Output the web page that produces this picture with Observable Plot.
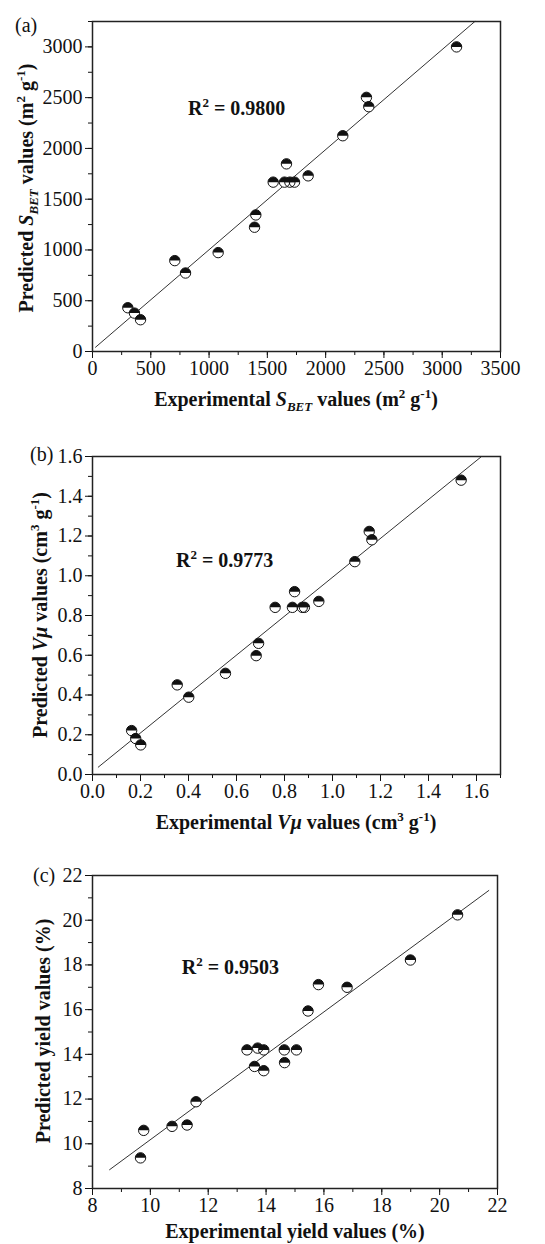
<!DOCTYPE html>
<html>
<head>
<meta charset="utf-8">
<script src="https://cdn.jsdelivr.net/npm/d3@7"></script>
<script src="https://cdn.jsdelivr.net/npm/@observablehq/plot@0.6"></script>
<style>
  body { margin: 0; background: #fff; }
  #chart svg { display: block; }
  text { white-space: pre; }
</style>
</head>
<body>
<div id="chart"></div>
<script>
// ---------- Panel (a): S_BET ----------
const expA  = [303, 360, 412, 706, 798, 1078, 1390, 1401, 1550, 1647, 1664, 1693, 1733, 1850, 2147, 2350, 2370, 3123];
const predA = [431, 378, 313, 895, 773, 974, 1224, 1345, 1668, 1668, 1848, 1668, 1668, 1730, 2125, 2503, 2411, 3000];
const fitAx = [26, 3280];
const fitAy = [42, 3250];
const xTicksA = [0, 500, 1000, 1500, 2000, 2500, 3000, 3500];
const yTicksA = [0, 500, 1000, 1500, 2000, 2500, 3000];
const r2A = "0.9800";

// ---------- Panel (b): V_mu ----------
const expB  = [0.163, 0.180, 0.201, 0.353, 0.401, 0.554, 0.682, 0.692, 0.761, 0.833, 0.842, 0.874, 0.883, 0.943, 1.093, 1.153, 1.164, 1.536];
const predB = [0.221, 0.181, 0.149, 0.451, 0.389, 0.509, 0.598, 0.660, 0.841, 0.841, 0.920, 0.841, 0.841, 0.871, 1.071, 1.223, 1.181, 1.481];
const fitBx = [0.024, 1.621];
const fitBy = [0.037, 1.6];
const xTicksB = [0, 0.2, 0.4, 0.6, 0.8, 1.0, 1.2, 1.4, 1.6];
const yTicksB = [0, 0.2, 0.4, 0.6, 0.8, 1.0, 1.2, 1.4, 1.6];
const r2B = "0.9773";

// ---------- Panel (c): yield ----------
const expC  = [9.66, 9.77, 10.75, 11.27, 11.58, 13.34, 13.60, 13.71, 13.92, 13.92, 14.63, 14.64, 15.05, 15.45, 15.81, 16.80, 18.99, 20.62];
const predC = [9.37, 10.60, 10.78, 10.84, 11.88, 14.20, 13.46, 14.28, 14.20, 13.27, 14.20, 13.63, 14.20, 15.94, 17.12, 17.00, 18.22, 20.24];
const fitCx = [8.59, 21.70];
const fitCy = [8.84, 21.33];
const xTicksC = [8, 10, 12, 14, 16, 18, 20, 22];
const yTicksC = [8, 10, 12, 14, 16, 18, 20, 22];
const r2C = "0.9503";

const FONT = "'Liberation Serif', 'Times New Roman', serif";
const INK = "#111";

// top-half filled circle symbol
const halfTop = {
  draw(ctx, size) {
    const r = Math.sqrt(size / Math.PI);
    ctx.moveTo(r, 0);
    ctx.arc(0, 0, r, 0, Math.PI, true);
    ctx.closePath();
  }
};

function panel(cfg) {
  const pts = cfg.ex.map((x, i) => ({x, y: cfg.pr[i]}));
  const fit = cfg.fx.map((x, i) => ({x, y: cfg.fy[i]}));
  const svg = Plot.plot({
    width: 545,
    height: cfg.height,
    marginLeft: 92,
    marginRight: cfg.mr,
    marginTop: cfg.mt,
    marginBottom: cfg.mb,
    style: {fontFamily: FONT, fontSize: "20px", color: INK, background: "#fff", overflow: "visible"},
    x: {domain: cfg.xDomain, label: null},
    y: {domain: cfg.yDomain, label: null},
    marks: [
      Plot.axisX(cfg.xMinor, {tickSize: 4, fill: "none", label: null, stroke: INK}),
      Plot.axisX(cfg.xTicks, {tickSize: 7, tickPadding: 2, tickFormat: cfg.fmt, label: null, fontSize: 20, stroke: INK, fill: INK}),
      Plot.axisY(cfg.yMinor, {tickSize: 4, fill: "none", label: null, stroke: INK}),
      Plot.axisY(cfg.yTicks, {tickSize: 7, tickPadding: 3, tickFormat: cfg.fmt, label: null, fontSize: 20, stroke: INK, fill: INK}),
      Plot.line(fit, {x: "x", y: "y", stroke: "#333", strokeWidth: 1}),
      Plot.dot(pts, {x: "x", y: "y", r: 5.2, fill: "white", stroke: "none"}),
      Plot.dot(pts, {x: "x", y: "y", r: 5.2, symbol: halfTop, fill: INK, stroke: "none"}),
      Plot.dot(pts, {x: "x", y: "y", r: 5.2, fill: "none", stroke: INK, strokeWidth: 1}),
      Plot.frame({stroke: "#222", strokeWidth: 1.5})
    ]
  });
  return svg;
}

function richText(svg, x, y, parts, opts = {}) {
  const {rotate = false, anchor = "middle", weight = "bold", size = 20} = opts;
  const t = d3.select(svg).append("text")
    .attr("text-anchor", anchor)
    .attr("font-weight", weight)
    .attr("font-size", size)
    .attr("font-family", FONT)
    .attr("fill", INK)
    .attr("transform", rotate ? `translate(${x},${y}) rotate(-90)` : `translate(${x},${y})`);
  let shift = 0;
  for (const [s, kind = ""] of parts) {
    const ts = t.append("tspan").text(s);
    let target = 0;
    if (kind.includes("sup")) target = -8;
    if (kind.includes("sub")) target = 5;
    ts.attr("dy", target - shift);
    shift = target;
    if (kind.includes("sup") || kind.includes("sub")) ts.attr("font-size", 13);
    if (kind.includes("i")) ts.attr("font-style", "italic");
  }
  if (shift !== 0) t.append("tspan").attr("dy", -shift).text("");
}

// R² annotation placed through the plot's own scales
function r2Label(svg, xv, yv, value) {
  const px = svg.scale("x").apply(xv);
  const py = svg.scale("y").apply(yv) + 7;
  richText(svg, px, py, [["R"], ["2", "sup"], [" = " + value]], {anchor: "start"});
}

const root = document.getElementById("chart");

// Panel (a)
const svgA = panel({
  ex: expA, pr: predA, fx: fitAx, fy: fitAy,
  xDomain: [0, 3500], yDomain: [0, 3250],
  xTicks: xTicksA, yTicks: yTicksA,
  xMinor: d3.range(0, 3501, 250), yMinor: d3.range(0, 3251, 250),
  fmt: d3.format("d"),
  height: 415, mt: 21, mb: 64, mr: 45
});
r2Label(svgA, 823, 2398, r2A);
richText(svgA, 15, 32, [["(a)"]], {anchor: "start", weight: "normal"});
richText(svgA, 296, 406, [["Experimental "], ["S", "i"], ["BET", "i sub"], [" values (m"], ["2", "sup"], [" g"], ["-1", "sup"], [")"]]);
richText(svgA, 33, 188, [["Predicted "], ["S", "i"], ["BET", "i sub"], [" values (m"], ["2", "sup"], [" g"], ["-1", "sup"], [")"]], {rotate: true});
root.appendChild(svgA);

// Panel (b)
const svgB = panel({
  ex: expB, pr: predB, fx: fitBx, fy: fitBy,
  xDomain: [0, 1.7], yDomain: [0, 1.6],
  xTicks: xTicksB, yTicks: yTicksB,
  xMinor: d3.range(0, 17).map(d => d / 10 + 0.1), yMinor: d3.range(0, 16).map(d => d / 10 + 0.1),
  fmt: d3.format(".1f"),
  height: 425, mt: 41, mb: 66, mr: 45
});
r2Label(svgB, 0.35, 1.076, r2B);
richText(svgB, 30, 46, [["(b)"]], {anchor: "start", weight: "normal"});
richText(svgB, 296, 414, [["Experimental "], ["Vμ", "i"], [" values (cm"], ["3", "sup"], [" g"], ["-1", "sup"], [")"]]);
richText(svgB, 47, 200, [["Predicted "], ["Vμ", "i"], [" values (cm"], ["3", "sup"], [" g"], ["-1", "sup"], [")"]], {rotate: true});
root.appendChild(svgB);

// Panel (c)
const svgC = panel({
  ex: expC, pr: predC, fx: fitCx, fy: fitCy,
  xDomain: [8, 22], yDomain: [8, 22],
  xTicks: xTicksC, yTicks: yTicksC,
  xMinor: d3.range(9, 22, 1), yMinor: d3.range(9, 22, 1),
  fmt: d3.format("d"),
  height: 404, mt: 35, mb: 56, mr: 48
});
r2Label(svgC, 11.10, 17.89, r2C);
richText(svgC, 33, 42, [["(c)"]], {anchor: "start", weight: "normal"});
richText(svgC, 295, 398, [["Experimental yield values (%)"]]);
richText(svgC, 50, 191, [["Predicted yield values (%)"]], {rotate: true});
root.appendChild(svgC);
</script>
</body>
</html>
